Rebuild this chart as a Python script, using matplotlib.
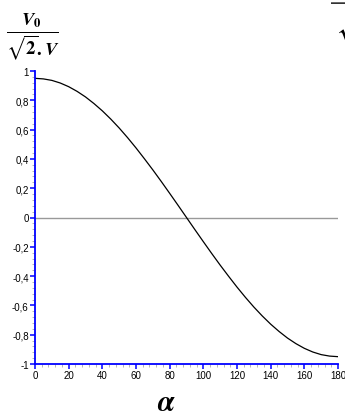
import matplotlib.pyplot as plt
import numpy as np
from matplotlib.ticker import MultipleLocator, FuncFormatter

plt.rcParams['mathtext.fontset'] = 'stix'
plt.rcParams['font.family'] = ['Liberation Sans', 'DejaVu Sans']

# curve (alpha in degrees)
alpha = [0, 5, 10, 15, 20, 25, 30, 35, 40, 45, 50, 55, 60, 65, 70, 75, 80, 85, 90,
         95, 100, 105, 110, 115, 120, 125, 130, 135, 140, 145, 150, 155, 160, 165,
         170, 175, 180]
ratio = [0.950, 0.946, 0.936, 0.918, 0.893, 0.861, 0.823, 0.778, 0.728, 0.672,
         0.611, 0.545, 0.475, 0.401, 0.325, 0.246, 0.165, 0.083, 0.000,
         -0.083, -0.165, -0.246, -0.325, -0.401, -0.475, -0.545, -0.611, -0.672,
         -0.728, -0.778, -0.823, -0.861, -0.893, -0.918, -0.936, -0.946, -0.950]

ylabel = r'$\frac{\boldsymbol{V}_{\mathbf{0}}}{\sqrt{\mathbf{2}}\mathbf{.}\boldsymbol{V}}$'

fig = plt.figure(figsize=(3.45, 4.14), dpi=100)
ax = fig.add_axes([35/345, 1 - 365/414, 303/345, 293/414])

ax.axhline(0, color='#999999', lw=1.0, zorder=1)
ax.plot(alpha, ratio, color='black', lw=0.9, zorder=2)

ax.set_xlim(0, 180)
ax.set_ylim(-1, 1)

for s in ['top', 'right']:
    ax.spines[s].set_visible(False)
for s in ['left', 'bottom']:
    ax.spines[s].set_color('#0000ff')
    ax.spines[s].set_linewidth(1.3)

ax.xaxis.set_major_locator(MultipleLocator(20))
ax.xaxis.set_minor_locator(MultipleLocator(4))
ax.yaxis.set_major_locator(MultipleLocator(0.2))
ax.yaxis.set_minor_locator(MultipleLocator(0.04))

def comma(v, pos):
    s = '%g' % round(v, 2)
    return s.replace('.', ',')

ax.yaxis.set_major_formatter(FuncFormatter(comma))
ax.tick_params(which='major', direction='out', length=3.5, width=1.1,
               color='#0000ff', labelsize=7, pad=1)
ax.tick_params(which='minor', direction='out', length=2, width=0.6,
               color='#aaaaaa')

# axis titles
fig.text(6/345, 1 - 37/414, ylabel, fontsize=19, ha='left', va='center')
fig.text(166/345, 1 - 403/414, r'$\boldsymbol{\alpha}$', fontsize=21,
         ha='center', va='center')

# cut-off piece of a neighbouring label at the top right
fig.text(331/345, 1 - 4/414, '\u2014', fontsize=13, fontweight='bold',
         ha='left', va='center', color='#333333')
fig.text(335/345, 1 - 32/414, r'$\sqrt{\mathbf{2}}$', fontsize=19,
         ha='left', va='center')

fig.savefig('out.png', dpi=100)
